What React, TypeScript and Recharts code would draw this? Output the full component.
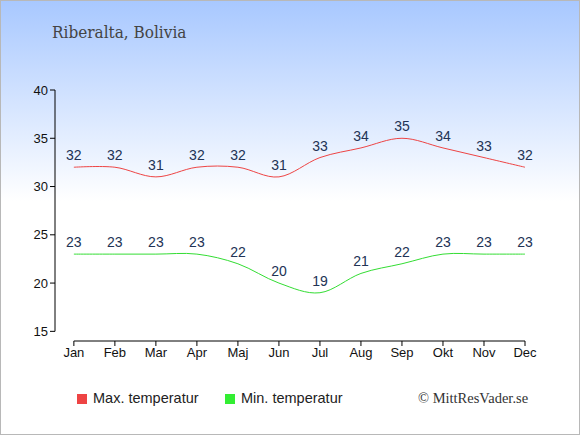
import {
  LineChart,
  Line,
  XAxis,
  YAxis,
  LabelList,
  ReferenceLine,
} from "recharts";

const months = ["Jan", "Feb", "Mar", "Apr", "Maj", "Jun", "Jul", "Aug", "Sep", "Okt", "Nov", "Dec"];
const maxTemp = [32, 32, 31, 32, 32, 31, 33, 34, 35, 34, 33, 32];
const minTemp = [23, 23, 23, 23, 22, 20, 19, 21, 22, 23, 23, 23];
const yTicks = [15, 20, 25, 30, 35, 40];

const data = months.map((m, i) => ({ x: i, month: m, max: maxTemp[i], min: minTemp[i] }));

// catmull-rom style curve (d3 cardinal, tension 0)
function cardinal(context: any) {
  const k = 1 / 6;
  let x0 = NaN, y0 = NaN, x1 = NaN, y1 = NaN, x2 = NaN, y2 = NaN, pt = 0;
  const bez = (x: number, y: number) => {
    context.bezierCurveTo(
      x1 + k * (x2 - x0), y1 + k * (y2 - y0),
      x2 + k * (x1 - x), y2 + k * (y1 - y),
      x2, y2
    );
  };
  return {
    areaStart() {},
    areaEnd() {},
    lineStart() {
      x0 = x1 = x2 = y0 = y1 = y2 = NaN;
      pt = 0;
    },
    lineEnd() {
      if (pt === 2) context.lineTo(x2, y2);
      else if (pt === 3) bez(x1, y1);
    },
    point(x: number, y: number) {
      x = +x; y = +y;
      switch (pt) {
        case 0: pt = 1; context.moveTo(x, y); break;
        case 1: pt = 2; x1 = x; y1 = y; break;
        case 2: pt = 3; bez(x, y); break;
        default: bez(x, y); break;
      }
      if (pt === 2) { x0 = x1; y0 = y1; x1 = x2; y1 = y2; x2 = x; y2 = y; return; }
      x0 = x1; x1 = x2; x2 = x;
      y0 = y1; y1 = y2; y2 = y;
    },
  };
}

const tickStyle = { fontFamily: "'Liberation Sans', Arial, sans-serif", fontSize: 13, fill: "#111" };
const labelStyle = { fontFamily: "'Liberation Sans', Arial, sans-serif", fontSize: 14, fill: "#223355" };

export default function App() {
  return (
    <div
      style={{
        position: "absolute",
        left: 0,
        top: 0,
        width: 580,
        height: 435,
        boxSizing: "border-box",
        border: "1px solid #b8b8b8",
        background: "linear-gradient(to bottom, #a8c8ff 0px, #ffffff 200px)",
        fontFamily: "'Liberation Sans', Arial, sans-serif",
      }}
    >
      <div
        style={{
          position: "absolute",
          left: 51,
          top: 23,
          lineHeight: 1,
          fontFamily: "'DejaVu Serif Condensed', 'DejaVu Serif', serif",
          fontSize: 17,
          color: "#444",
        }}
      >
        Riberalta, Bolivia
      </div>
      <div style={{ position: "absolute", left: -1, top: -1 }}>
        <LineChart
          width={580}
          height={435}
          data={data}
          margin={{ top: 90, right: 55, bottom: 64, left: 15 }}
        >
          <XAxis
            dataKey="x"
            type="number"
            domain={[-0.46, 11]}
            ticks={months.map((_, i) => i)}
            tickFormatter={(v: number) => months[v]}
            axisLine={false}
            tickLine={{ stroke: "#000" }}
            tickSize={5}
            tick={tickStyle}
            height={30}
            allowDataOverflow
          />
          <YAxis
            type="number"
            domain={[14, 40]}
            ticks={yTicks}
            axisLine={false}
            tickLine={{ stroke: "#000" }}
            tickSize={5}
            tick={tickStyle}
            width={40}
            allowDataOverflow
          />
          <ReferenceLine
            segment={[{ x: 0, y: 14 }, { x: 11, y: 14 }]}
            stroke="#000"
            ifOverflow="visible"
          />
          <ReferenceLine
            segment={[{ x: -0.46, y: 15 }, { x: -0.46, y: 40 }]}
            stroke="#000"
            ifOverflow="visible"
          />
          <Line
            dataKey="max"
            type={cardinal as any}
            stroke="#ee4444"
            strokeWidth={1}
            dot={false}
            activeDot={false}
            isAnimationActive={false}
          >
            <LabelList dataKey="max" position="top" offset={7} style={labelStyle} />
          </Line>
          <Line
            dataKey="min"
            type={cardinal as any}
            stroke="#33dd33"
            strokeWidth={1}
            dot={false}
            activeDot={false}
            isAnimationActive={false}
          >
            <LabelList dataKey="min" position="top" offset={7} style={labelStyle} />
          </Line>
        </LineChart>
      </div>
      <div style={{ position: "absolute", left: 76, top: 393, width: 10, height: 10, background: "#ee4444" }} />
      <div style={{ position: "absolute", left: 92, top: 389, fontSize: 14.5, color: "#222" }}>Max. temperatur</div>
      <div style={{ position: "absolute", left: 224, top: 393, width: 10, height: 10, background: "#33ee33" }} />
      <div style={{ position: "absolute", left: 240, top: 389, fontSize: 14.5, color: "#222" }}>Min. temperatur</div>
      <div
        style={{
          position: "absolute",
          left: 417,
          top: 389,
          fontSize: 14.5,
          color: "#333",
          fontFamily: "'Liberation Serif', serif",
        }}
      >
        © MittResVader.se
      </div>
    </div>
  );
}
